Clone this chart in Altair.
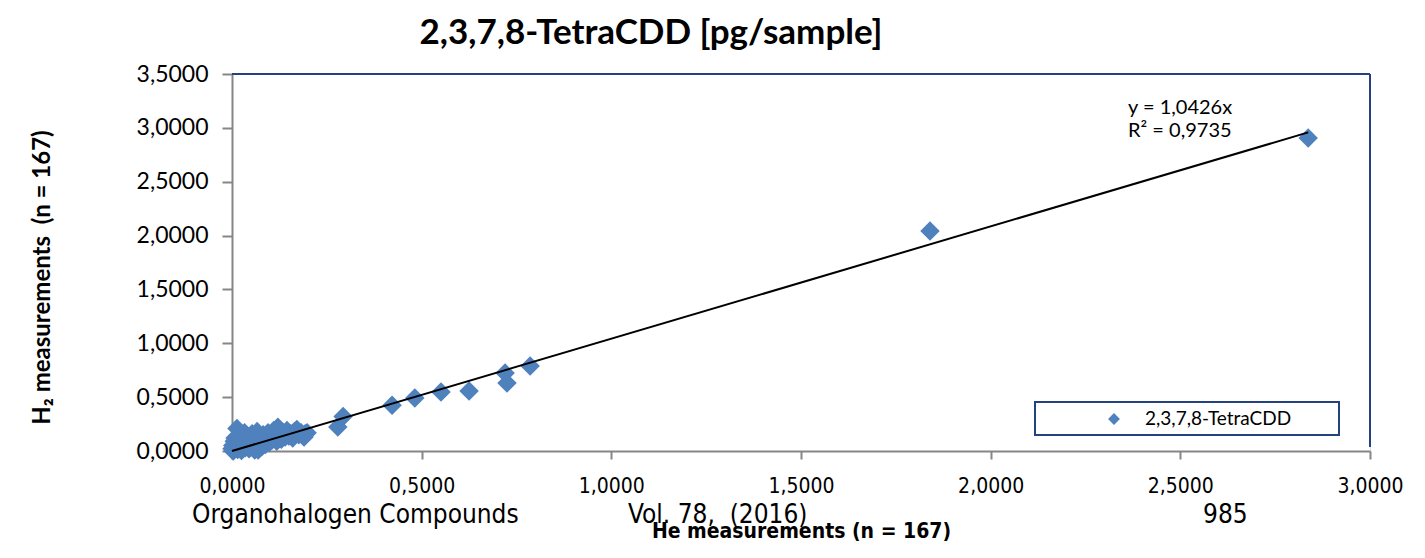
import altair as alt
import pandas as pd

# He measurements (x) and H2 measurements (y), pg/sample
he_x = [0.000, 0.002, 0.003, 0.005, 0.006, 0.008, 0.010, 0.012, 0.013, 0.015,
        0.018, 0.020, 0.022, 0.025, 0.028, 0.030, 0.033, 0.035, 0.038, 0.040,
        0.043, 0.045, 0.048, 0.050, 0.053, 0.055, 0.058, 0.060, 0.063, 0.066,
        0.069, 0.072, 0.075, 0.078, 0.082, 0.085, 0.088, 0.092, 0.095, 0.098,
        0.102, 0.105, 0.110, 0.114, 0.118, 0.121, 0.125, 0.130, 0.135, 0.140,
        0.145, 0.150, 0.155, 0.160, 0.165, 0.171, 0.176, 0.182, 0.188, 0.193,
        0.198, 0.190,
        0.279, 0.293, 0.422, 0.482, 0.551, 0.625, 0.720, 0.725, 0.786, 1.840, 2.837]
h2_y = [0.020, 0.050, 0.000, 0.010, 0.090, 0.120, 0.030, 0.060, 0.210, 0.015,
        0.150, 0.040, 0.080, 0.005, 0.110, 0.060, 0.170, 0.030, 0.090, 0.140,
        0.050, 0.020, 0.120, 0.070, 0.160, 0.040, 0.100, 0.010, 0.130, 0.180,
        0.010, 0.070, 0.110, 0.040, 0.150, 0.090, 0.060, 0.120, 0.170, 0.080,
        0.140, 0.100, 0.190, 0.120, 0.090, 0.220, 0.150, 0.110, 0.170, 0.130,
        0.190, 0.140, 0.160, 0.120, 0.180, 0.200, 0.150, 0.170, 0.140, 0.160,
        0.170, 0.130,
        0.223, 0.320, 0.425, 0.492, 0.548, 0.557, 0.724, 0.631, 0.789, 2.043, 2.906]

slope = 1.0426
eq_text = "y = 1,0426x"
r2_text = "R² = 0,9735"
series_name = "2,3,7,8-TetraCDD"
x_ticks = [0, 0.5, 1.0, 1.5, 2.0, 2.5, 3.0]
y_ticks = [0, 0.5, 1.0, 1.5, 2.0, 2.5, 3.0, 3.5]
footer_texts = ["Organohalogen Compounds", "Vol. 78,\u00a0\u00a0(2016)", "985"]

BLUE = "#4F81BD"
FRAME = "#24427F"
GRAY = "#868686"
FONT = "Lato"
NARROW = "Liberation Sans Narrow, DejaVu Sans Condensed, Liberation Sans"

W, H = 1138, 377

df = pd.DataFrame({"He": he_x, "H2": h2_y})
xmax = max(he_x)
line_df = pd.DataFrame({"He": [0, xmax], "H2": [0, slope * xmax]})

fmt = "replace(format(datum.value, '.4f'), '.', ',')"
xscale = alt.Scale(domain=[0, 3], nice=False)
yscale = alt.Scale(domain=[0, 3.5], nice=False)

xaxis = alt.Axis(values=x_ticks, labelExpr=fmt, grid=False, domainColor=GRAY,
                 domainWidth=2, tickColor=GRAY, tickWidth=2, tickSize=8,
                 labelFont=NARROW, labelFontSize=21, labelColor="black",
                 labelPadding=16, labelFlush=False,
                 title="He measurements (n = 167)",
                 titleFont=NARROW, titleFontSize=21, titleFontWeight="bold",
                 titleColor="black", titleY=80, titleBaseline="middle")
yaxis = alt.Axis(values=y_ticks, labelExpr=fmt, grid=False, domainColor=GRAY,
                 domainWidth=2, tickColor=GRAY, tickWidth=2, tickSize=10,
                 labelFont=FONT, labelFontSize=23, labelColor="black",
                 labelPadding=14, labelFlush=False,
                 title="H₂ measurements\u00a0\u00a0(n = 167)",
                 titleFont=FONT, titleFontSize=24, titleFontWeight="bold",
                 titleColor="black", titleX=-190, titleY=203, titleAngle=-90,
                 titleBaseline="middle")

points = alt.Chart(df).mark_point(shape="diamond", filled=True, size=380,
                                  color=BLUE, opacity=1).encode(
    x=alt.X("He:Q", scale=xscale, axis=xaxis),
    y=alt.Y("H2:Q", scale=yscale, axis=yaxis),
)

trend = alt.Chart(line_df).mark_line(color="black", strokeWidth=2).encode(
    x=alt.X("He:Q", scale=xscale), y=alt.Y("H2:Q", scale=yscale))

one = pd.DataFrame({"a": [0]})

top_border = alt.Chart(one).mark_rule(color=FRAME, strokeWidth=2).encode(
    x=alt.value(0), x2=alt.value(W), y=alt.value(0))
right_border = alt.Chart(one).mark_rule(color=FRAME, strokeWidth=2).encode(
    x=alt.value(W), y=alt.value(0), y2=alt.value(H - 4))

ann = alt.Chart(pd.DataFrame({"t": [eq_text, r2_text], "yy": [40, 63]})).mark_text(
    align="left", baseline="alphabetic", font=FONT, fontSize=20, color="black").encode(
    x=alt.value(896), y=alt.Y("yy:Q", scale=None), text="t:N")

leg_box = alt.Chart(one).mark_rect(fill="white", stroke=FRAME, strokeWidth=2).encode(
    x=alt.value(803), x2=alt.value(1107), y=alt.value(328), y2=alt.value(361))
leg_pt = alt.Chart(one).mark_point(shape="diamond", filled=True, size=140,
                                   color=BLUE, opacity=1).encode(
    x=alt.value(882), y=alt.value(345))
leg_txt = alt.Chart(pd.DataFrame({"t": [series_name]})).mark_text(
    align="left", baseline="middle", font=FONT, fontSize=19, color="black").encode(
    x=alt.value(913), y=alt.value(345), text="t:N")

footer = alt.Chart(pd.DataFrame({
    "t": footer_texts,
    "xx": [-40, 396, 971]})).mark_text(
    align="left", baseline="middle", font=NARROW, fontSize=26, color="black").encode(
    x=alt.X("xx:Q", scale=None), y=alt.value(441), text="t:N")

chart = alt.layer(points, trend, top_border, right_border, ann, leg_box, leg_pt,
                  leg_txt, footer).properties(
    width=W, height=H,
    title=alt.Title("2,3,7,8-TetraCDD [pg/sample]", font=FONT, fontSize=35,
                    fontWeight="bold", color="black", anchor="middle", dx=-150,
                    offset=12),
    autosize=alt.AutoSizeParams(type="none"),
    padding={"left": 232, "top": 74, "right": 55, "bottom": 107},
).configure_view(stroke=None).configure(background="white")

chart.save("out.html", embed_options={"renderer": "svg", "actions": False})
